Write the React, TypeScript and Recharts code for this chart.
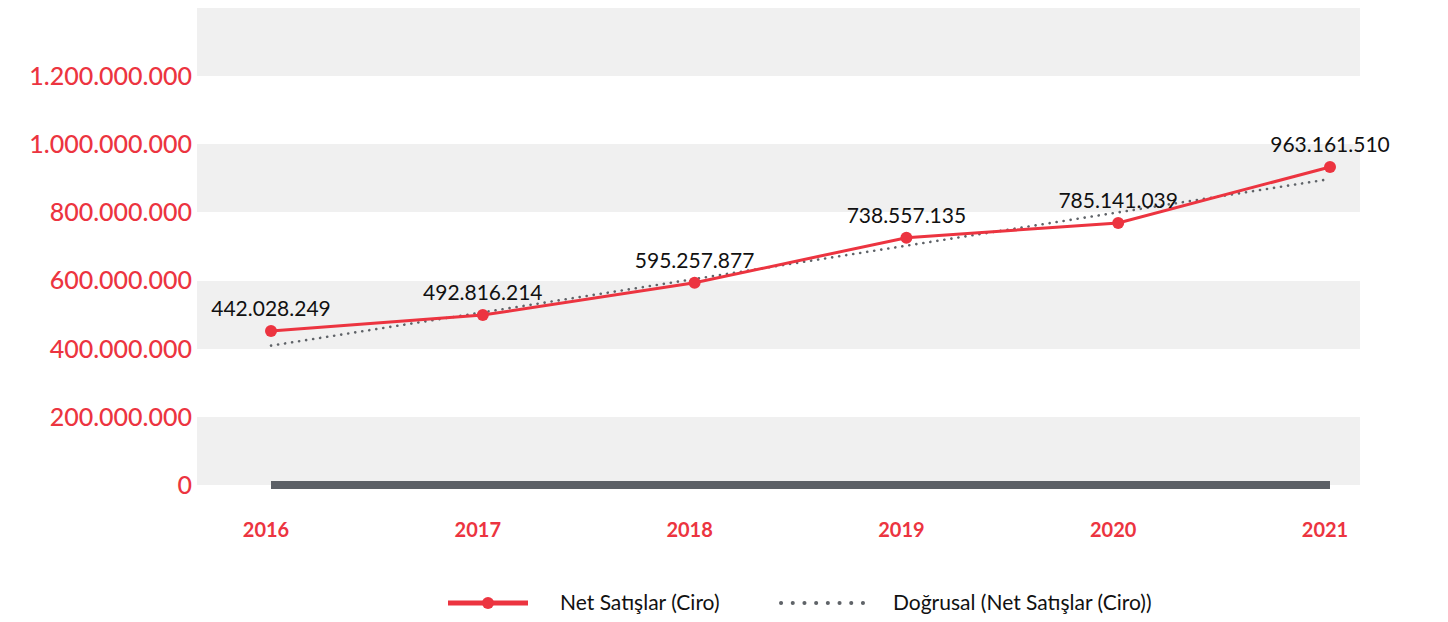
import React from "react";
import {
  CartesianGrid,
  LabelList,
  Line,
  LineChart,
  ReferenceLine,
  XAxis,
  YAxis,
} from "recharts";

const years = ["2016", "2017", "2018", "2019", "2020", "2021"];
const netSales = [442028249, 492816214, 595257877, 738557135, 785141039, 963161510];
// trend line endpoints (drawn straight between them)
const trend = [409000000, null, null, null, null, 898000000];
const yTicks = [0, 200000000, 400000000, 600000000, 800000000, 1000000000, 1200000000];

const RED = "#ec3440";
const GREY = "#5f6368";
const FONT = "Lato, 'Noto Sans', sans-serif";

const fmt = (v: number) => String(Math.round(v)).replace(/\B(?=(\d{3})+(?!\d))/g, ".");

const data = years.map((year, i) => ({ year, sales: netSales[i], trend: trend[i] }));

function LegendRow() {
  return (
    <div
      style={{
        position: "absolute",
        top: 589,
        left: 0,
        width: 1448,
        height: 28,
        fontFamily: FONT,
        fontSize: 21,
        color: "#111",
      }}
    >
      <svg width={80} height={28} style={{ position: "absolute", left: 448, top: 0 }}>
        <line x1={0} y1={14} x2={80} y2={14} stroke={RED} strokeWidth={5} />
        <circle cx={40} cy={14} r={6} fill={RED} />
      </svg>
      <span style={{ position: "absolute", left: 560, top: 0 }}>Net Satışlar (Ciro)</span>
      <svg width={86} height={28} style={{ position: "absolute", left: 779, top: 0 }}>
        <line
          x1={2}
          y1={14}
          x2={84}
          y2={14}
          stroke={GREY}
          strokeWidth={4}
          strokeLinecap="round"
          strokeDasharray="0.1 11.6"
        />
      </svg>
      <span style={{ position: "absolute", left: 893, top: 0 }}>Doğrusal (Net Satışlar (Ciro))</span>
    </div>
  );
}

export default function App() {
  return (
    <div style={{ position: "absolute", left: 0, top: 0, width: 1448, height: 622, background: "#fff" }}>
      <LineChart
        width={1448}
        height={560}
        data={data}
        margin={{ top: 8, right: 88, bottom: 0, left: 0 }}
      >
        <CartesianGrid
          yAxisId="grid"
          vertical={false}
          stroke="none"
          horizontalFill={["#f0f0f0", "#ffffff"]}
          fillOpacity={1}
        />
        <XAxis
          dataKey="year"
          height={75}
          axisLine={false}
          tickLine={false}
          tickSize={0}
          tickMargin={38}
          padding={{ left: 74, right: 30 }}
          tick={{ fill: RED, fontSize: 20, fontWeight: 700, fontFamily: FONT, dx: -5 }}
        />
        <YAxis
          yAxisId="grid"
          width={197}
          domain={[0, 1400000000]}
          ticks={yTicks}
          interval={0}
          axisLine={false}
          tickLine={false}
          tickSize={0}
          tickMargin={5}
          tickFormatter={fmt}
          tick={{ fill: RED, fontSize: 25, fontWeight: 500, fontFamily: FONT }}
        />
        <YAxis yAxisId="val" hide domain={[-47000000, 1468000000]} allowDataOverflow />
        <ReferenceLine
          yAxisId="grid"
          segment={[
            { x: years[0], y: 0 },
            { x: years[years.length - 1], y: 0 },
          ]}
          stroke="#5c6066"
          strokeWidth={8}
          ifOverflow="visible"
        />
        <Line
          yAxisId="grid"
          dataKey="trend"
          type="linear"
          connectNulls
          stroke={GREY}
          strokeWidth={2.6}
          strokeLinecap="round"
          strokeDasharray="0.1 7"
          dot={false}
          activeDot={false}
          isAnimationActive={false}
        />
        <Line
          yAxisId="val"
          dataKey="sales"
          type="linear"
          stroke={RED}
          strokeWidth={3}
          dot={{ r: 6, fill: RED, stroke: RED, strokeWidth: 0 }}
          activeDot={false}
          isAnimationActive={false}
        >
          <LabelList
            dataKey="sales"
            position="top"
            offset={15}
            formatter={(v: any) => fmt(Number(v))}
            style={{ fill: "#111", fontSize: 21, fontFamily: FONT }}
          />
        </Line>
      </LineChart>
      <LegendRow />
    </div>
  );
}
